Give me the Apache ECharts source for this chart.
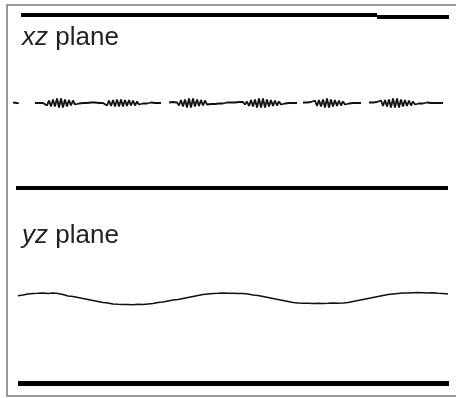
<!DOCTYPE html>
<html>
<head>
<meta charset="utf-8">
<script src="https://cdn.jsdelivr.net/npm/echarts@6/dist/echarts.min.js"></script>
<style>
html, body { margin: 0; padding: 0; background: #fff; }
#chart { width: 456px; height: 398px; }
</style>
</head>
<body>
<div id="chart"></div>
<script>
// time axis shared by both panels (arbitrary sample units)
const timeMax = 436

// xz plane trace, one value every 2 units, null = dropout
const xzStart = 0
const xzStep = 2
const xzValues = [
  -1, -0.5, -1.5, -2,
  null, null, null, null, null, null, null,
  -1.5, -1.5, -1.5, -1.5, -1.5,
  -1, -4, 1, -5, 2, -5, 3, -6, 3, -6, 2, -5, 1.5, -4, 1, -3,
  -1, -2, -1, -1.5, -1.5, -1.5, -2, -1, -2, -1,
  -1.5, -1.5, -1.5, -1.5,
  0, -4, 1, -4.5, 1.5, -5, 2, -5, 2, -5, 1.5, -4.5, 1.5, -4, 1, -4, 0, -3,
  -1, -2, -1, -2, -1.5, -1, -2, -1.5, -1.5, -1.5, -1.5,
  null, null, null,
  -1, -2, -0.5, -2.5, -1,
  -4, 1.5, -5, 2, -6, 3, -6, 3, -5, 2, -4.5, 1.5, -4, 1, -3,
  -1, -2.5, -0.5, -2.5, -1, -2, -1, -2, -1.5, -1, -2, -1, -2, -1, -2.5, -0.5, -2.5, -0.5, -3, 0,
  -4.5, 1.5, -5, 2, -6, 3, -6, 3, -6, 2, -5, 1.5, -4.5, 1, -4, 0, -3, -1,
  -2, -1, -1.5, -1.5, -1.5, -1.5, -1.5,
  null, null,
  -1, -2, -1, -2.5, -0.5, -2.5,
  1, -4.5, 1.5, -5, 2, -6, 3, -6, 2, -5, 1.5, -4.5, 1, -4, 0, -3,
  -1, -2, -1, -1.5, -1.5, -1.5, -1.5, -1.5,
  null, null, null,
  -1, -2, -1, -2.5, -0.5, -2.5,
  1, -4.5, 1.5, -5, 2, -6, 3, -6, 3, -6, 2, -5, 1.5, -4.5, 1, -4, 0, -3, -1, -2,
  -1, -2, -1.5, -1, -1.5, -1.5, -2, -1.5, -1.5, -1.5, -2, -1.5
]

// yz plane trace, one value every 5 units
const yzStart = 5
const yzStep = 5
const yzValues = [
  0.3, 1, 2, 2.5, 2.7, 3, 2.5, 3, 2.5, 1.5,
  0, -0.5, -1.5, -2.5, -3.5, -4.5, -5.5, -6.5, -7, -8,
  -8.3, -8.5, -8.5, -8.7, -8.3, -8.5, -8, -7.5, -6.5, -6,
  -5, -4, -3.5, -2.5, -1.5, -0.5, 0.5, 1.5, 2, 2.5,
  2.7, 3, 2.7, 2.8, 2.5, 2.5, 2, 1, 0.5, -0.5,
  -1.5, -2.5, -3.5, -4.5, -5.5, -6.5, -7, -7.3, -7.3, -7.5,
  -7.3, -7.5, -7.3, -7, -7.3, -7, -6.5, -5.5, -4.5, -3.5,
  -2.5, -1.5, -0.5, 0.5, 1.5, 2, 2.5, 3, 3, 3.3,
  3.5, 3.3, 3, 3.3, 2.8, 2.5, 2
]

const panelNames = ['xz', 'yz']

const FONT = '"Liberation Sans", Arial, sans-serif'

function toPairs(start, step, values) {
  return values.map((v, i) => [start + i * step, v === null ? '-' : v])
}

function rule(x1, x2, y, width) {
  return [
    { coord: [x1, y], lineStyle: { width } },
    { coord: [x2, y] }
  ]
}

const chart = echarts.init(document.getElementById('chart'), null, { renderer: 'canvas' })

chart.setOption({
  animation: false,
  backgroundColor: '#fff',
  title: panelNames.map((name, i) => ({
    text: '{i|' + name + '} plane',
    left: 22,
    top: i === 0 ? 25 : 223,
    padding: 0,
    textStyle: {
      fontFamily: FONT, fontSize: 26, fontWeight: 'normal', color: '#222',
      rich: { i: { fontFamily: FONT, fontSize: 26, fontStyle: 'italic', color: '#222' } }
    }
  })),
  graphic: [{
    type: 'rect',
    silent: true,
    shape: { x: 7, y: 5, width: 460, height: 391 },
    style: { fill: 'none', stroke: '#777', lineWidth: 1.5 }
  }],
  grid: [
    { left: 13, right: 7, top: 15, height: 173 },
    { left: 13, right: 7, top: 209, height: 174 }
  ],
  xAxis: [
    { type: 'value', gridIndex: 0, min: 0, max: timeMax, show: false },
    { type: 'value', gridIndex: 1, min: 0, max: timeMax, show: false }
  ],
  yAxis: [
    { type: 'value', gridIndex: 0, min: -86.5, max: 86.5, show: false },
    { type: 'value', gridIndex: 1, min: -87, max: 87, show: false }
  ],
  series: [
    {
      name: 'xz',
      type: 'line',
      xAxisIndex: 0, yAxisIndex: 0,
      data: toPairs(xzStart, xzStep, xzValues),
      showSymbol: false,
      connectNulls: false,
      clip: false,
      lineStyle: { color: '#111', width: 1.8 },
      markLine: {
        silent: true, symbol: 'none', label: { show: false },
        lineStyle: { color: '#000', type: 'solid' },
        data: [
          rule(8, 364, 86.5, 4),
          rule(364, 436, 84.5, 4),
          rule(3, 435, -86.5, 4)
        ]
      }
    },
    {
      name: 'yz',
      type: 'line',
      xAxisIndex: 1, yAxisIndex: 1,
      data: toPairs(yzStart, yzStep, yzValues),
      showSymbol: false,
      clip: false,
      lineStyle: { color: '#111', width: 1.6 },
      markLine: {
        silent: true, symbol: 'none', label: { show: false },
        lineStyle: { color: '#000', type: 'solid' },
        data: [
          rule(5, 437, 87, 3),
          rule(5, 436, -87, 5)
        ]
      }
    }
  ]
})
</script>
</body>
</html>
